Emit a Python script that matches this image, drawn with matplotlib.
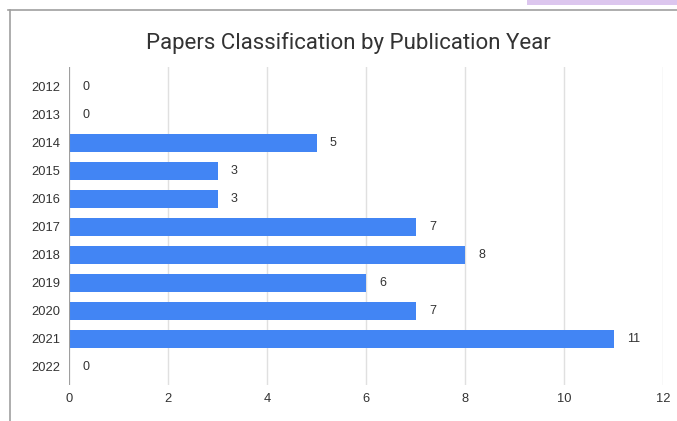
import matplotlib.pyplot as plt
from matplotlib.lines import Line2D
from matplotlib.patches import Rectangle

years = ["2012", "2013", "2014", "2015", "2016", "2017", "2018", "2019", "2020", "2021", "2022"]
papers = [0, 0, 5, 3, 3, 7, 8, 6, 7, 11, 0]
x_ticks = [0, 2, 4, 6, 8, 10, 12]

W, H = 677, 421
fig = plt.figure(figsize=(W / 100, H / 100), dpi=100)
plt.rcParams['font.family'] = ['Liberation Sans', 'DejaVu Sans']

# screenshot frame bits
fig.add_artist(Line2D([10 / W, 10 / W], [0, 1 - 10 / H], color='#a0a0a0', lw=1.2))
fig.add_artist(Line2D([8 / W, 1], [1 - 10 / H, 1 - 10 / H], color='#a0a0a0', lw=1.2))
fig.add_artist(Rectangle((527 / W, 1 - 5 / H), 150 / W, 5 / H, color='#dcc6ee', lw=0))

# axes box runs a little past the first/last rows so grid lines overhang
ax = fig.add_axes([69 / W, 1 - 385 / H, (663 - 69) / W, 318 / H])
pos = list(range(len(years)))
ax.barh(pos, papers, height=0.62, color='#4285f4', zorder=3)
for p, v in zip(pos, papers):
    ax.text(v + 0.27, p, str(v), va='center', ha='left', fontsize=9, color='#333333')

ax.set_ylim(10.643, -0.714)
ax.set_xlim(0, 12)
ax.set_yticks(pos)
ax.set_yticklabels(years)
ax.set_xticks(x_ticks)
ax.tick_params(axis='both', length=0, labelsize=9.3, colors='#333333')
ax.tick_params(axis='y', pad=6)
ax.tick_params(axis='x', pad=6)
ax.grid(axis='x', color='#e0e0e0', lw=1, zorder=0)
for s in ax.spines.values():
    s.set_visible(False)
ax.axvline(0, color='#9e9e9e', lw=1.5, zorder=4)

fig.text(348 / W, 1 - 43 / H, "Papers Classification by Publication Year",
         ha='center', va='center', fontsize=16, color='#333333',
         family=['Roboto', 'DejaVu Sans'])

fig.savefig("out.png", dpi=100)
